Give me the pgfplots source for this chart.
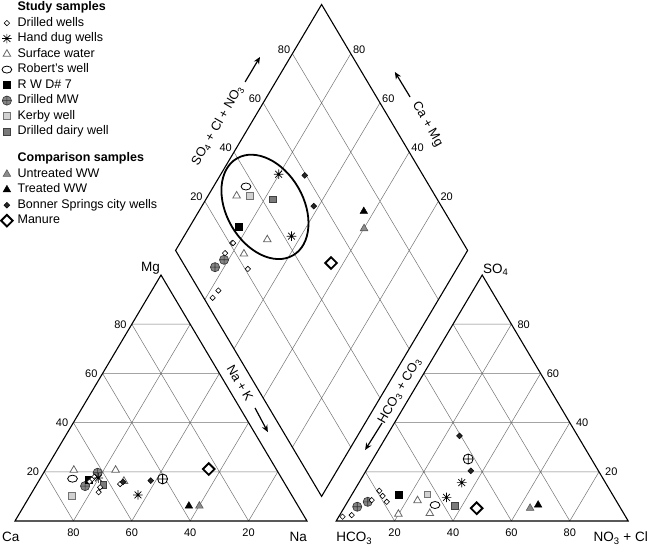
\documentclass[border=0pt]{standalone}
\usepackage{fontspec}
\setmainfont{Liberation Sans}
\usepackage{pgfplots}
\usepackage{pgfplotstable}
\pgfplotsset{compat=1.18}
\usetikzlibrary{arrows.meta,shapes.geometric}

\pgfdeclareplotmark{star8}{%
  \pgfpathmoveto{\pgfqpoint{-\pgfplotmarksize}{0pt}}\pgfpathlineto{\pgfqpoint{\pgfplotmarksize}{0pt}}%
  \pgfpathmoveto{\pgfqpoint{0pt}{-\pgfplotmarksize}}\pgfpathlineto{\pgfqpoint{0pt}{\pgfplotmarksize}}%
  \pgfpathmoveto{\pgfqpoint{-.7071\pgfplotmarksize}{-.7071\pgfplotmarksize}}\pgfpathlineto{\pgfqpoint{.7071\pgfplotmarksize}{.7071\pgfplotmarksize}}%
  \pgfpathmoveto{\pgfqpoint{-.7071\pgfplotmarksize}{.7071\pgfplotmarksize}}\pgfpathlineto{\pgfqpoint{.7071\pgfplotmarksize}{-.7071\pgfplotmarksize}}%
  \pgfusepathqstroke}
\pgfdeclareplotmark{ellip}{%
  \pgfpathellipse{\pgfpointorigin}{\pgfqpoint{1.4\pgfplotmarksize}{0pt}}{\pgfqpoint{0pt}{\pgfplotmarksize}}%
  \pgfusepathqfillstroke}

% each sample: Na+K, Mg (meq %), SO4, Cl+NO3 (meq %)
\pgfplotstableread{
Na Mg SO4 Cl
17.9 17.0 12.3 8.6
18.2 18.0 7.8 13.4
17.5 16.0 8.5 7.9
28.5 15.0 10.2 10.8
22.8 11.7 2.4 4.1
22.3 13.7 1.75 1.3
}\drilled
\pgfplotstableread{
Na Mg SO4 Cl
19.8 17.5 15.6 35.2
36.8 10.6 9.6 33.0
}\handdug
\pgfplotstableread{
Na Mg SO4 Cl
9.8 20.7 8.3 23.7
24.1 20.7 2.8 19.9
29.2 16.2 3.1 30.5
}\surface
\pgfplotstableread{
Na Mg SO4 Cl
11.1 17.2 6.5 30.6
}\robert
\pgfplotstableread{
Na Mg SO4 Cl
16.8 16.7 10.6 16.0
}\rwd
\pgfplotstableread{
Na Mg SO4 Cl
16.9 14.2 5.8 4.3
18.5 19.6 7.8 6.9
}\drilledmw
\pgfplotstableread{
Na Mg SO4 Cl
42.0 17.1 25.2 32.6
}\openmw
\pgfplotstableread{
Na Mg SO4 Cl
14.3 10.3 10.8 25.8
}\kerby
\pgfplotstableread{
Na Mg SO4 Cl
22.9 14.6 6.1 37.6
}\dairy
\pgfplotstableread{
Na Mg SO4 Cl
60.1 6.1 5.2 63.8
}\untreated
\pgfplotstableread{
Na Mg SO4 Cl
56.5 6.1 6.5 65.9
}\treated
\pgfplotstableread{
Na Mg SO4 Cl
29.0 15.9 34.6 24.9
38.3 16.4 20.4 35.9
}\bonner
\pgfplotstableread{
Na Mg SO4 Cl
55.8 21.1 5.2 45.5
}\manure

\newcommand{\cation}[2]{\addplot[only marks,forget plot,#2] table[x expr=\thisrow{Na}+0.5*\thisrow{Mg}, y expr=0.866025*\thisrow{Mg}] {#1};}
\newcommand{\anion}[2]{\addplot[only marks,forget plot,#2] table[x expr=110+\thisrow{Cl}+0.5*\thisrow{SO4}, y expr=0.866025*\thisrow{SO4}] {#1};}
\newcommand{\diam}[2]{\addplot[only marks,forget plot,#2] table[x expr=55+0.5*\thisrow{Na}+0.5*\thisrow{SO4}+0.5*\thisrow{Cl}, y expr=95.2628-0.866025*\thisrow{Na}+0.866025*\thisrow{SO4}+0.866025*\thisrow{Cl}] {#1};}
\newcommand{\piper}[2]{\cation{#1}{#2}\anion{#1}{#2}\diam{#1}{#2}}

\tikzset{
  mDW/.style={mark=square*, mark size=1.9pt, mark options={rotate=45, fill=white, draw=black, line width=0.6pt}},
  mHD/.style={mark=star8, mark size=4.8pt, mark options={draw=black, line width=0.7pt}},
  mSW/.style={mark=triangle*, mark size=4.4pt, mark options={fill=white, draw=black!60, line width=0.8pt}},
  mRW/.style={mark=ellip, mark size=3.5pt, mark options={fill=white, draw=black, line width=0.8pt}},
  mRWD/.style={mark=square*, mark size=3.5pt, mark options={fill=black, draw=black}},
  mMW/.style={mark=oplus*, mark size=4.6pt, mark options={fill=black!48, draw=black!80, line width=0.6pt}},
  mKW/.style={mark=square*, mark size=3.3pt, mark options={fill=black!18, draw=black!55, line width=0.6pt}},
  mDDW/.style={mark=square*, mark size=3.3pt, mark options={fill=black!52, draw=black!75, line width=0.6pt}},
  mUWW/.style={mark=triangle*, mark size=4.4pt, mark options={fill=black!45, draw=black!65, line width=0.6pt}},
  mTWW/.style={mark=triangle*, mark size=4.4pt, mark options={fill=black, draw=black}},
  mBS/.style={mark=square*, mark size=2.1pt, mark options={rotate=45, fill=black!85, draw=black}},
  mMAN/.style={mark=square*, mark size=4.1pt, mark options={rotate=45, fill=white, draw=black, line width=1.9pt}},
  mOMW/.style={mark=oplus*, mark size=5pt, mark options={fill=white, draw=black, line width=0.8pt}},
  grd/.style={draw=black!55, line width=0.5pt},
  frame/.style={draw=black, line width=1.1pt},
  tl/.style={font=\fontsize{11}{12}\selectfont, inner sep=0pt},
  cl/.style={font=\fontsize{13.5}{15}\selectfont, inner sep=0pt},
  rl/.style={font=\fontsize{12.8}{14}\selectfont, inner sep=0pt},
  arr/.style={-{Stealth[length=7pt,width=6pt]}, line width=1.2pt},
}

\begin{document}
\begin{tikzpicture}
\begin{axis}[
  x=2.92pt, y=2.84pt,
  xmin=-5.137, xmax=217.466, ymin=-10.211, ymax=183.451,
  hide axis, clip=false,
  legend image code/.code={\path (0pt,0pt) (17pt,0pt); \draw[#1] plot[only marks] coordinates {(6.5pt,0pt)};},
  legend cell align=left,
  legend style={at={(rel axis cs:0,1)}, anchor=north west, draw=none, fill=none,
    font=\fontsize{12.5}{14}\selectfont, row sep=3.7pt, inner sep=0pt,
    nodes={inner sep=0pt, text height=9.2pt, text depth=2.6pt},
    xshift=0pt, yshift=-1.5pt},
]
\addlegendimage{empty legend}\addlegendentry{\textbf{Study samples}}
\addlegendimage{mDW}\addlegendentry{Drilled wells}
\addlegendimage{mHD}\addlegendentry{Hand dug wells}
\addlegendimage{mSW}\addlegendentry{Surface water}
\addlegendimage{mRW}\addlegendentry{Robert's well}
\addlegendimage{mRWD}\addlegendentry{R W D\# 7}
\addlegendimage{mMW}\addlegendentry{Drilled MW}
\addlegendimage{mKW}\addlegendentry{Kerby well}
\addlegendimage{mDDW}\addlegendentry{Drilled dairy well}
\addlegendimage{empty legend}\addlegendentry[text height=7.9pt, text depth=0pt]{}
\addlegendimage{empty legend}\addlegendentry{\textbf{Comparison samples}}
\addlegendimage{mUWW}\addlegendentry{Untreated WW}
\addlegendimage{mTWW}\addlegendentry{Treated WW}
\addlegendimage{mBS}\addlegendentry{Bonner Springs city wells}
\addlegendimage{mMAN}\addlegendentry{Manure}

% grids
\draw[grd] (axis cs:10,17.3205)--(axis cs:90,17.3205) (axis cs:20,34.641)--(axis cs:80,34.641)
 (axis cs:30,51.9615)--(axis cs:70,51.9615) (axis cs:40,69.282)--(axis cs:60,69.282)
 (axis cs:80,0)--(axis cs:40,69.282) (axis cs:60,0)--(axis cs:30,51.9615)
 (axis cs:40,0)--(axis cs:20,34.641) (axis cs:20,0)--(axis cs:10,17.3205)
 (axis cs:20,0)--(axis cs:60,69.282) (axis cs:40,0)--(axis cs:70,51.9615)
 (axis cs:60,0)--(axis cs:80,34.641) (axis cs:80,0)--(axis cs:90,17.3205);
\draw[grd] (axis cs:120,17.3205)--(axis cs:200,17.3205) (axis cs:130,34.641)--(axis cs:190,34.641)
 (axis cs:140,51.9615)--(axis cs:180,51.9615) (axis cs:150,69.282)--(axis cs:170,69.282)
 (axis cs:190,0)--(axis cs:150,69.282) (axis cs:170,0)--(axis cs:140,51.9615)
 (axis cs:150,0)--(axis cs:130,34.641) (axis cs:130,0)--(axis cs:120,17.3205)
 (axis cs:130,0)--(axis cs:170,69.282) (axis cs:150,0)--(axis cs:180,51.9615)
 (axis cs:170,0)--(axis cs:190,34.641) (axis cs:190,0)--(axis cs:200,17.3205);
\draw[grd] (axis cs:95,25.9808)--(axis cs:145,112.583) (axis cs:85,43.3013)--(axis cs:135,129.904)
 (axis cs:75,60.6218)--(axis cs:125,147.224) (axis cs:65,77.9423)--(axis cs:115,164.545)
 (axis cs:115,25.9808)--(axis cs:65,112.583) (axis cs:125,43.3013)--(axis cs:75,129.904)
 (axis cs:135,60.6218)--(axis cs:85,147.224) (axis cs:145,77.9423)--(axis cs:95,164.545);
% frames
\draw[frame] (axis cs:0,0)--(axis cs:100,0)--(axis cs:50,86.6025)--cycle;
\draw[frame] (axis cs:110,0)--(axis cs:210,0)--(axis cs:160,86.6025)--cycle;
\draw[frame] (axis cs:105,8.66025)--(axis cs:155,95.2628)--(axis cs:105,181.865)--(axis cs:55,95.2628)--cycle;

% tick labels
\node[tl, anchor=east, xshift=-5pt] at (axis cs:10,17.3205) {20};
\node[tl, anchor=east, xshift=-5pt] at (axis cs:20,34.641) {40};
\node[tl, anchor=east, xshift=-5pt] at (axis cs:30,51.9615) {60};
\node[tl, anchor=east, xshift=-5pt] at (axis cs:40,69.282) {80};
\node[tl, anchor=north, yshift=-8pt] at (axis cs:20,0) {80};
\node[tl, anchor=north, yshift=-8pt] at (axis cs:40,0) {60};
\node[tl, anchor=north, yshift=-8pt] at (axis cs:60,0) {40};
\node[tl, anchor=north, yshift=-8pt] at (axis cs:80,0) {20};
\node[tl, anchor=north, yshift=-8pt] at (axis cs:130,0) {20};
\node[tl, anchor=north, yshift=-8pt] at (axis cs:150,0) {40};
\node[tl, anchor=north, yshift=-8pt] at (axis cs:170,0) {60};
\node[tl, anchor=north, yshift=-8pt] at (axis cs:190,0) {80};
\node[tl, anchor=west, xshift=6pt] at (axis cs:200,17.3205) {20};
\node[tl, anchor=west, xshift=6pt] at (axis cs:190,34.641) {40};
\node[tl, anchor=west, xshift=6pt] at (axis cs:180,51.9615) {60};
\node[tl, anchor=west, xshift=6pt] at (axis cs:170,69.282) {80};
\node[tl, anchor=south east, xshift=-2pt] at (axis cs:65,112.583) {20};
\node[tl, anchor=south east, xshift=-2pt] at (axis cs:75,129.904) {40};
\node[tl, anchor=south east, xshift=-2pt] at (axis cs:85,147.224) {60};
\node[tl, anchor=south east, xshift=-2pt] at (axis cs:95,164.545) {80};
\node[tl, anchor=south west, xshift=2pt] at (axis cs:145,112.583) {20};
\node[tl, anchor=south west, xshift=2pt] at (axis cs:135,129.904) {40};
\node[tl, anchor=south west, xshift=2pt] at (axis cs:125,147.224) {60};
\node[tl, anchor=south west, xshift=2pt] at (axis cs:115,164.545) {80};

% corner labels
\node[cl, anchor=base west] at (axis cs:-4.45,-7.39) {Ca};
\node[cl, anchor=base east] at (axis cs:100,-7.39) {Na};
\node[cl, anchor=base west] at (axis cs:110,-7.39) {HCO\textsubscript{3}};
\node[cl, anchor=base east] at (axis cs:216.8,-7.39) {NO\textsubscript{3} + Cl};
\node[cl, anchor=base east] at (axis cs:49.66,88.0) {Mg};
\node[cl, anchor=base west] at (axis cs:160.27,87.3) {SO\textsubscript{4}};

% axis titles with arrows
\node[rl, rotate=60] at (axis cs:69.4,139.3) {SO\textsubscript{4} + Cl + NO\textsubscript{3}};
\draw[arr] (axis cs:78.8,154.6) -- (axis cs:83.9,163.4);
\node[rl, rotate=-60] at (axis cs:141.2,139.6) {Ca + Mg};
\draw[arr] (axis cs:135.3,149.3) -- (axis cs:130.1,158.1);
\node[rl, rotate=-60] at (axis cs:77.05,48.6) {Na + K};
\draw[arr] (axis cs:82.2,39.8) -- (axis cs:86.6,31.3);
\node[rl, rotate=60] at (axis cs:131.8,45.8) {HCO\textsubscript{3} + CO\textsubscript{3}};
\draw[arr] (axis cs:125.7,34.5) -- (axis cs:119.9,25.0);

% data
\piper{\surface}{mSW}
\piper{\untreated}{mUWW}
\piper{\treated}{mTWW}
\piper{\drilledmw}{mMW}
\cation{\openmw}{mOMW}
\anion{\openmw}{mOMW}
\piper{\robert}{mRW}
\piper{\kerby}{mKW}
\piper{\dairy}{mDDW}
\piper{\rwd}{mRWD}
\piper{\drilled}{mDW}
\piper{\handdug}{mHD}
\piper{\bonner}{mBS}
\piper{\manure}{mMAN}

% grouping ellipse
\node[draw, ellipse, line width=1.8pt, minimum width=112pt, minimum height=77pt, inner sep=0pt, rotate=-60] at (axis cs:85.6,110.6) {};
\end{axis}
\pgfresetboundingbox
\useasboundingbox (current axis.south west) rectangle (current axis.north east);
\end{tikzpicture}
\end{document}
